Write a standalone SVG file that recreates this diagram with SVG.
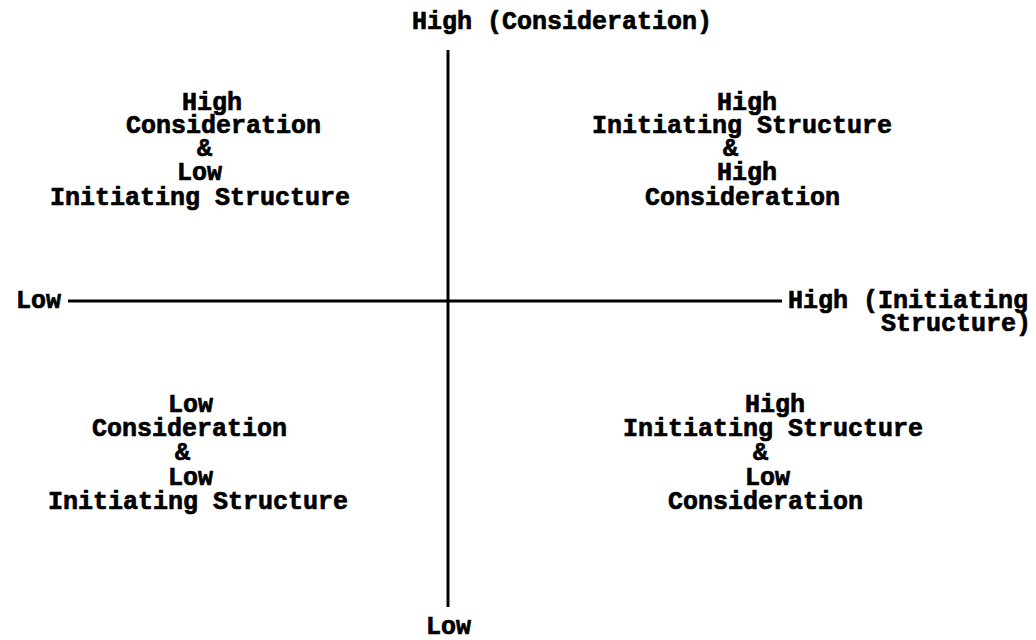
<svg xmlns="http://www.w3.org/2000/svg" width="1036" height="640" viewBox="0 0 1036 640">
  <style>
    text { font-family: "Liberation Mono", "Courier New", monospace; font-weight: bold; font-size: 25px; fill: #000; stroke: #000; stroke-width: 0.7px; }
    .axis { stroke: #000; stroke-width: 3; fill: none; }
  </style>
  <rect width="1036" height="640" fill="#fff"/>

  <!-- axes -->
  <g id="connectors">
    <line class="axis" x1="448" y1="50" x2="448" y2="607"/>
    <line class="axis" x1="68" y1="301" x2="782" y2="301"/>
  </g>

  <!-- axis end labels -->
  <g id="label-top"><text x="412" y="29">High (Consideration)</text></g>
  <g id="label-left"><text x="16" y="308">Low</text></g>
  <g id="label-right">
    <text x="788" y="308">High (Initiating</text>
    <text x="881" y="331">Structure)</text>
  </g>
  <g id="label-bottom"><text x="426" y="634">Low</text></g>

  <!-- quadrant: upper left -->
  <g id="q-upper-left">
    <text x="182" y="110">High</text>
    <text x="126" y="133">Consideration</text>
    <text x="197" y="156">&amp;</text>
    <text x="177" y="180">Low</text>
    <text x="50" y="205">Initiating Structure</text>
  </g>

  <!-- quadrant: upper right -->
  <g id="q-upper-right">
    <text x="717" y="110">High</text>
    <text x="592" y="133">Initiating Structure</text>
    <text x="723" y="156">&amp;</text>
    <text x="717" y="180">High</text>
    <text x="645" y="205">Consideration</text>
  </g>

  <!-- quadrant: lower left -->
  <g id="q-lower-left">
    <text x="168" y="412">Low</text>
    <text x="92" y="436">Consideration</text>
    <text x="175" y="460">&amp;</text>
    <text x="168" y="485">Low</text>
    <text x="48" y="509">Initiating Structure</text>
  </g>

  <!-- quadrant: lower right -->
  <g id="q-lower-right">
    <text x="745" y="412">High</text>
    <text x="623" y="436">Initiating Structure</text>
    <text x="753" y="460">&amp;</text>
    <text x="745" y="485">Low</text>
    <text x="668" y="509">Consideration</text>
  </g>
</svg>
